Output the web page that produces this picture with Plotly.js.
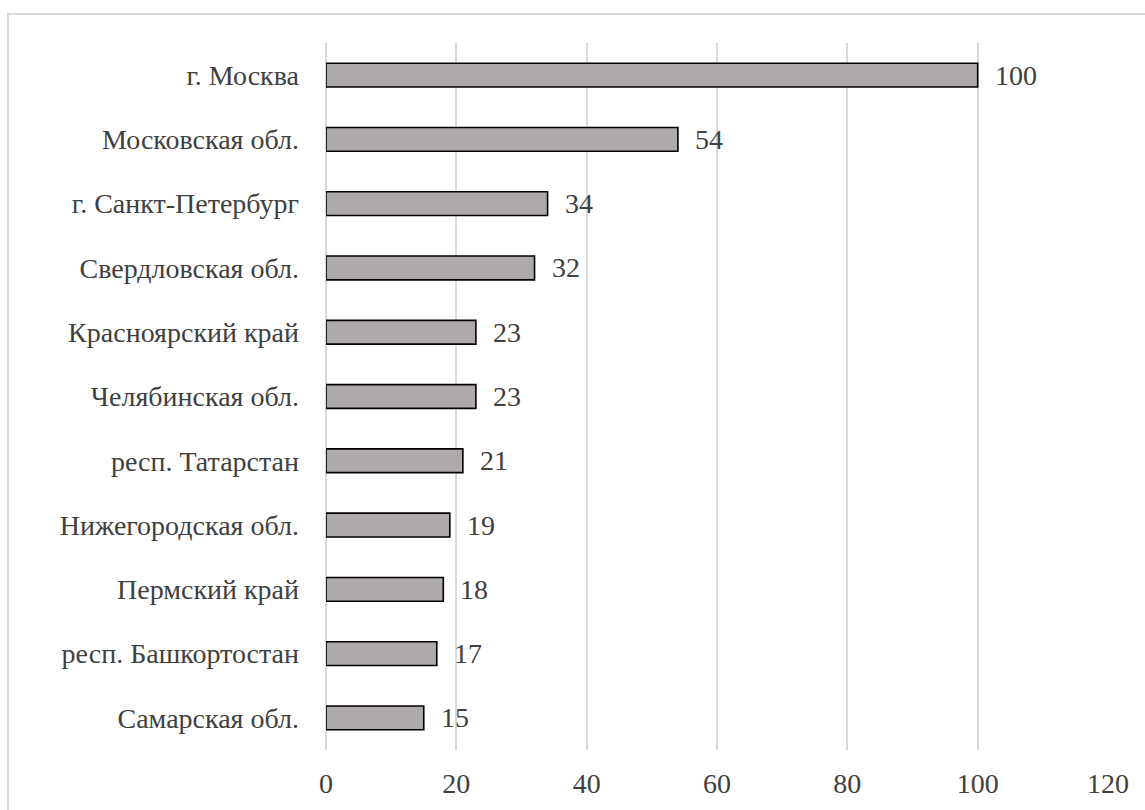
<!DOCTYPE html>
<html>
<head>
<meta charset="utf-8">
<script src="https://cdn.plot.ly/plotly-3.0.1.min.js"></script>
<style>
  html, body { margin: 0; padding: 0; overflow: hidden; background: #fff; font-family: 'Liberation Serif', serif; font-size: 28px; }
  svg text { font-family: 'Liberation Serif', 'Times New Roman', serif !important; }
  #frame {
    position: absolute; left: 7px; top: 13px;
    width: 1160px; height: 820px;
    border: 2px solid #d9d9d9; box-sizing: border-box;
    font-family: 'Liberation Serif', serif; font-size: 28px; color: #fff;
  }
  #chart { position: absolute; left: 0; top: 0; width: 1145px; height: 810px; }
</style>
</head>
<body>
<div id="frame">&nbsp;</div>
<div id="chart"></div>
<script>
// Regions, top to bottom
const regions = [
  "г. Москва",
  "Московская обл.",
  "г. Санкт-Петербург",
  "Свердловская обл.",
  "Красноярский край",
  "Челябинская обл.",
  "респ. Татарстан",
  "Нижегородская обл.",
  "Пермский край",
  "респ. Башкортостан",
  "Самарская обл."
];
const counts = [100, 54, 34, 32, 23, 23, 21, 19, 18, 17, 15];
const xTicks = [0, 20, 40, 60, 80, 100, 120];

const fontFamily = 'Liberation Serif';
const textColor = '#404040';

function buildFigure() {
  const trace = {
    type: 'bar',
    orientation: 'h',
    y: regions,
    x: counts,
    width: 0.37,
    marker: { color: '#aeaaaa', line: { color: '#000000', width: 1.6 } },
    hoverinfo: 'x+y'
  };

  // value labels placed just past the end of each bar
  const valueLabels = regions.map((r, i) => ({
    x: counts[i], y: r, xref: 'x', yref: 'y',
    text: String(counts[i]), showarrow: false,
    xanchor: 'left', yanchor: 'middle', xshift: 15,
    font: { family: fontFamily, size: 28, color: textColor }
  }));

  const layout = {
    width: 1145, height: 810,
    margin: { l: 326, r: 37, t: 43, b: 60 },
    paper_bgcolor: 'rgba(0,0,0,0)',
    plot_bgcolor: 'rgba(0,0,0,0)',
    showlegend: false,
    font: { family: fontFamily, size: 28, color: textColor },
    xaxis: {
      range: [0, 120],
      tickvals: xTicks,
      ticktext: xTicks.map(String),
      showgrid: true, gridcolor: '#d9d9d9', gridwidth: 1.5,
      zeroline: true, zerolinecolor: '#d9d9d9', zerolinewidth: 1.5,
      showline: false, ticks: '',
      ticklabelstandoff: 14,
      tickfont: { family: fontFamily, size: 28, color: textColor }
    },
    yaxis: {
      type: 'category',
      categoryorder: 'array', categoryarray: regions,
      autorange: 'reversed',
      showgrid: false, zeroline: false, showline: false, ticks: '',
      ticklabelstandoff: 26,
      tickfont: { family: fontFamily, size: 28, color: textColor }
    },
    annotations: valueLabels
  };
  return { data: [trace], layout: layout };
}

function draw() {
  const fig = buildFigure();
  Plotly.purge('chart');
  Plotly.newPlot('chart', fig.data, fig.layout, { displayModeBar: false });
}

draw();

// draw again once the serif face is ready so text is measured with it
if (document.fonts && document.fonts.load) {
  document.fonts.load('28px "Liberation Serif"', 'г. Москва 100').then(draw);
}
</script>
</body>
</html>
